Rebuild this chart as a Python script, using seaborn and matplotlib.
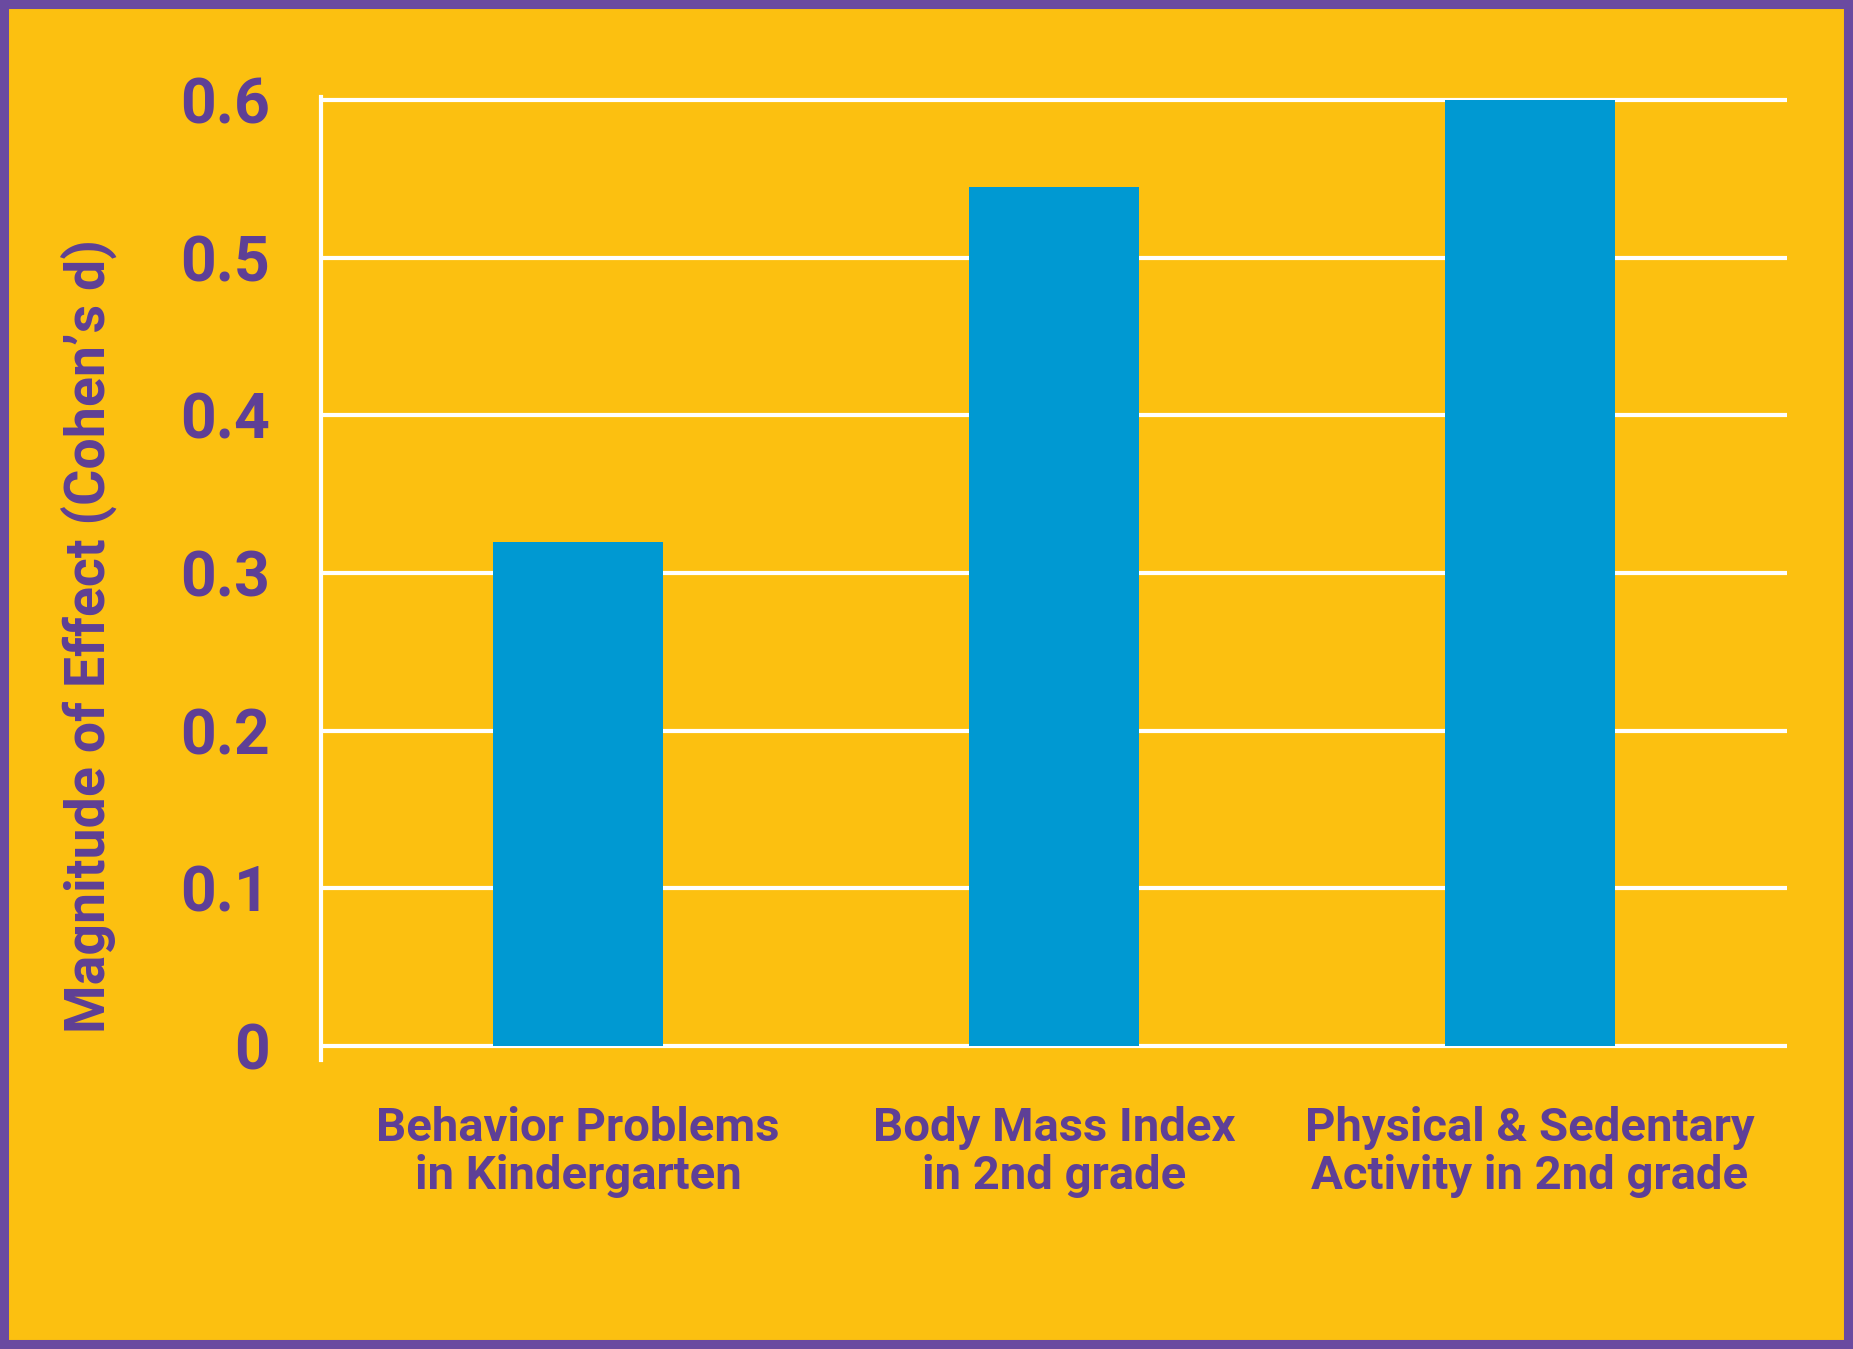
import matplotlib
matplotlib.use("Agg")
import matplotlib.pyplot as plt
from matplotlib.patches import Rectangle
import seaborn as sns
import pandas as pd

# Effect sizes by outcome
categories = [
    "Behavior Problems\nin Kindergarten",
    "Body Mass Index\nin 2nd grade",
    "Physical & Sedentary\nActivity in 2nd grade",
]
effect_sizes = [0.32, 0.545, 0.60]
y_ticks = [0, 0.1, 0.2, 0.3, 0.4, 0.5, 0.6]
y_tick_labels = ["0", "0.1", "0.2", "0.3", "0.4", "0.5", "0.6"]

YELLOW = "#FCC010"
BLUE = "#0099D2"
PURPLE = "#5E3F96"
BORDER = "#6A4AA0"

sns.set_style("white")
plt.rcParams["font.family"] = ["Roboto", "DejaVu Sans"]

df = pd.DataFrame({"outcome": categories, "effect": effect_sizes})

fig = plt.figure(figsize=(18.53, 13.49), dpi=100, facecolor=YELLOW)
ax = fig.add_axes([0.1732, 0.2142, 0.7912, 0.7139])
ax.set_facecolor(YELLOW)

# Horizontal white gridlines drawn beneath the bars
for t in y_ticks:
    ax.axhline(t, color="white", lw=3.0, zorder=0)

sns.barplot(data=df, x="outcome", y="effect", hue="outcome",
            palette=[BLUE] * len(categories), legend=False,
            width=0.357, saturation=1, linewidth=0, ax=ax, zorder=2)

ax.set_xlim(-0.54, 2.54)
ax.set_ylim(-0.0089, 0.602)
ax.set_yticks(y_ticks)
ax.set_yticklabels(y_tick_labels)

for s in ["top", "right", "bottom"]:
    ax.spines[s].set_visible(False)
ax.spines["left"].set_color("white")
ax.spines["left"].set_linewidth(3.0)

ax.tick_params(axis="y", length=0, pad=37, labelsize=45, labelcolor=PURPLE)
ax.tick_params(axis="x", length=0, pad=33, labelsize=34, labelcolor=PURPLE)
for lab in ax.get_yticklabels() + ax.get_xticklabels():
    lab.set_fontweight("bold")
for lab in ax.get_xticklabels():
    lab.set_linespacing(1.12)
    lab.set_ha("center")

ax.set_xlabel("")
ax.set_ylabel("Magnitude of Effect (Cohen\u2019s d)", fontsize=40,
              fontweight="bold", color=PURPLE)
ax.yaxis.set_label_coords(-0.139, 0.44)

# Purple frame around the whole figure
fig.patches.append(Rectangle((0, 0), 1, 1, transform=fig.transFigure,
                             fill=False, ec=BORDER, lw=13, zorder=10))

fig.savefig("out.png", dpi=100, facecolor=YELLOW)
